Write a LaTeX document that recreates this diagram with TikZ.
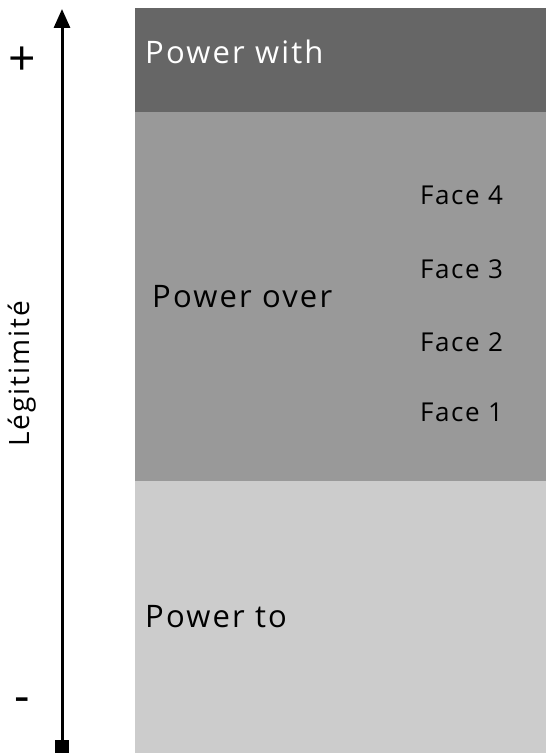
\documentclass[tikz,border=0pt]{standalone}
\usepackage{fontspec}
\setmainfont{Open Sans}
\newfontfamily\spacedfont[LetterSpace=7]{Open Sans}
\newfontfamily\facefont[LetterSpace=6]{Open Sans}
\usetikzlibrary{arrows.meta}
\definecolor{withgray}{HTML}{666666}
\definecolor{overgray}{HTML}{999999}
\definecolor{togray}{HTML}{CCCCCC}
\begin{document}
\begin{tikzpicture}[x=1pt,y=1pt,
  band/.style={draw=none,inner sep=0pt,outer sep=0pt,anchor=north west,minimum width=411pt},
  biglabel/.style={anchor=base west,inner sep=0pt,font=\spacedfont\fontsize{31}{34}\selectfont},
  facelabel/.style={anchor=base west,inner sep=0pt,font=\facefont\fontsize{26}{29}\selectfont},
  axislabel/.style={inner sep=0pt,font=\spacedfont\fontsize{28}{32}\selectfont},
  signlabel/.style={inner sep=0pt,font=\fontsize{48}{52}\selectfont}]
\useasboundingbox (0,0) rectangle (546,753);
% three bands of power
\node[band,fill=withgray,minimum height=104pt] (with) at (135,745) {};
\node[band,fill=overgray,minimum height=369pt] (over) at (135,641) {};
\node[band,fill=togray,minimum height=272pt] (to) at (135,272) {};
% band labels
\node[biglabel,text=white] (lwith) at (145,689) {Power with};
\node[biglabel] (lover) at (152,445) {Power over};
\node[biglabel] (lto) at (145,125) {Power to};
\node[facelabel] (f4) at (420,548) {Face 4};
\node[facelabel] (f3) at (420,474) {Face 3};
\node[facelabel] (f2) at (420,401) {Face 2};
\node[facelabel] (f1) at (420,331) {Face 1};
% legitimacy axis
\node[fill=black,inner sep=0pt,minimum size=14pt] (base) at (62,6) {};
\coordinate (tip) at (62,744);
\draw[line width=3pt,-{Triangle[length=19pt,width=16pt]}] (base.center) -- (tip);
\node[signlabel] (plus) at (22,692) {+};
\node[signlabel] (minus) at (22,48) {-};
\node[axislabel,rotate=90] (leg) at (22,379) {Légitimité};
\end{tikzpicture}
\end{document}
